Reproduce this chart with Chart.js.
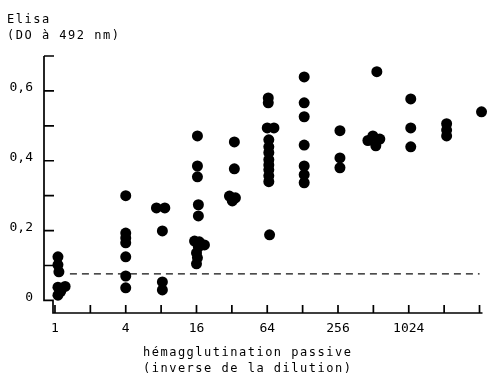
<!DOCTYPE html>
<html><head><meta charset="utf-8">
<script src="https://cdn.jsdelivr.net/npm/chart.js@4.4.0/dist/chart.umd.min.js"></script>
<style>
html,body{margin:0;padding:0;background:#fff;}
#wrap{position:relative;width:488px;height:380px;overflow:hidden;}
canvas{position:absolute;left:0;top:0;}
.t{position:absolute;font-family:"DejaVu Sans Mono",monospace;font-size:12px;line-height:16px;letter-spacing:1.5px;color:#000;white-space:pre;}
</style></head><body>
<div id="wrap">
<canvas id="c" width="488" height="380"></canvas>
<div class="t" style="left:7px;top:11px;">Elisa
(DO à 492 nm)</div>
<div class="t" style="left:143px;top:344px;">hémagglutination passive
(inverse de la dilution)</div>
</div>
<script>
// Reciprocal of the passive haemagglutination dilution (x) and ELISA OD at 492 nm (y)
const dilutionX = [
  1.06,1.06,1.08,1.06,1.22,1.06,1.12,
  4,4,4,4,4,4,4,
  7.3,8.6,8.2,8.2,8.2,
  16.3,16.3,16.3,16.6,16.6,15.4,16.9,18.7,16.6,16.0,16.3,16.0,
  33.6,33.6,30.5,34.3,32.3,
  65.3,65.3,64,73,66,66,66,66,66,66,66,66,67,
  132,132,132,132,132,132,132,
  266,266,266,
  548,460,507,581,537,
  1065,1065,1065,
  2150,2150,2150,
  4260
];
const elisaDO = [
  0.125,0.102,0.082,0.038,0.040,0.015,0.026,
  0.300,0.193,0.179,0.165,0.125,0.070,0.036,
  0.265,0.265,0.199,0.053,0.030,
  0.471,0.385,0.354,0.274,0.242,0.170,0.168,0.159,0.153,0.136,0.122,0.105,
  0.454,0.377,0.299,0.294,0.285,
  0.580,0.566,0.494,0.494,0.460,0.440,0.423,0.403,0.388,0.374,0.357,0.340,0.188,
  0.640,0.566,0.526,0.445,0.385,0.360,0.337,
  0.486,0.408,0.380,
  0.655,0.458,0.471,0.462,0.443,
  0.577,0.494,0.440,
  0.506,0.488,0.471,
  0.540
];
const thresholdDO = 0.076;
const thresholdFrom = 1.34;
const thresholdTo = 4100;
const xTickLabels = [1,4,16,64,256,1024];
const xTickMarks = [1,2,4,8,16,32,64,128,256,512,1024,2048,4096];
const yTickLabels = [0,0.2,0.4,0.6];
const yTickMarks = [0.1,0.2,0.3,0.4,0.5,0.6,0.7];

const points = dilutionX.map((x,i)=>({x:x,y:elisaDO[i]}));

const axesPlugin = {
  id:'axes',
  beforeDatasetsDraw(chart){
    const {ctx, chartArea:a, scales:{x,y}} = chart;
    ctx.save();
    ctx.strokeStyle='#000'; ctx.lineWidth=1.7;
    const yAxisX = a.left - 9;
    const y0 = y.getPixelForValue(0);
    ctx.beginPath();
    ctx.moveTo(yAxisX, a.top);
    ctx.lineTo(yAxisX, y0);
    ctx.lineTo(a.left, y0);
    ctx.lineTo(a.left, a.bottom);
    ctx.lineTo(a.right, a.bottom);
    ctx.stroke();
    ctx.beginPath();
    yTickMarks.forEach(v=>{const py=y.getPixelForValue(v); ctx.moveTo(yAxisX,py); ctx.lineTo(yAxisX+10,py);});
    xTickMarks.forEach(v=>{const px=x.getPixelForValue(v); ctx.moveTo(px,a.bottom); ctx.lineTo(px,a.bottom-8);});
    ctx.stroke();
    ctx.restore();
  }
};

new Chart(document.getElementById('c'), {
  data:{
    datasets:[
      {type:'scatter', data:points, pointRadius:5.5, pointHoverRadius:5.5, backgroundColor:'#000', borderWidth:0, clip:false},
      {type:'line', data:[{x:thresholdFrom,y:thresholdDO},{x:thresholdTo,y:thresholdDO}], borderColor:'#111', borderWidth:1.3, borderDash:[7,5], pointRadius:0, fill:false}
    ]
  },
  options:{
    responsive:false, animation:false, devicePixelRatio:1,
    layout:{padding:{top:56,right:4,left:0,bottom:0}},
    plugins:{legend:{display:false}, tooltip:{enabled:false}},
    scales:{
      x:{type:'logarithmic', min:0.962, max:4343,
         grid:{display:false, drawTicks:false}, border:{display:false},
         afterBuildTicks:(s)=>{s.ticks = xTickLabels.map(v=>({value:v}));},
         afterFit:(s)=>{s.height = 67;},
         ticks:{autoSkip:false, maxRotation:0, padding:8, color:'#000',
           font:{family:'"DejaVu Sans Mono", monospace', size:13},
           callback:(v)=>String(v)}
      },
      y:{type:'linear', min:-0.036, max:0.7,
         grid:{display:false, drawTicks:false}, border:{display:false},
         afterBuildTicks:(s)=>{s.ticks = yTickLabels.map(v=>({value:v}));},
         afterFit:(s)=>{s.width = 53;},
         ticks:{padding:20, labelOffset:-3, color:'#000',
           font:{family:'"DejaVu Sans Mono", monospace', size:13},
           callback:(v)=> v===0 ? '0' : v.toFixed(1).replace('.',',')}
      }
    }
  },
  plugins:[axesPlugin]
});
</script>
</body></html>
